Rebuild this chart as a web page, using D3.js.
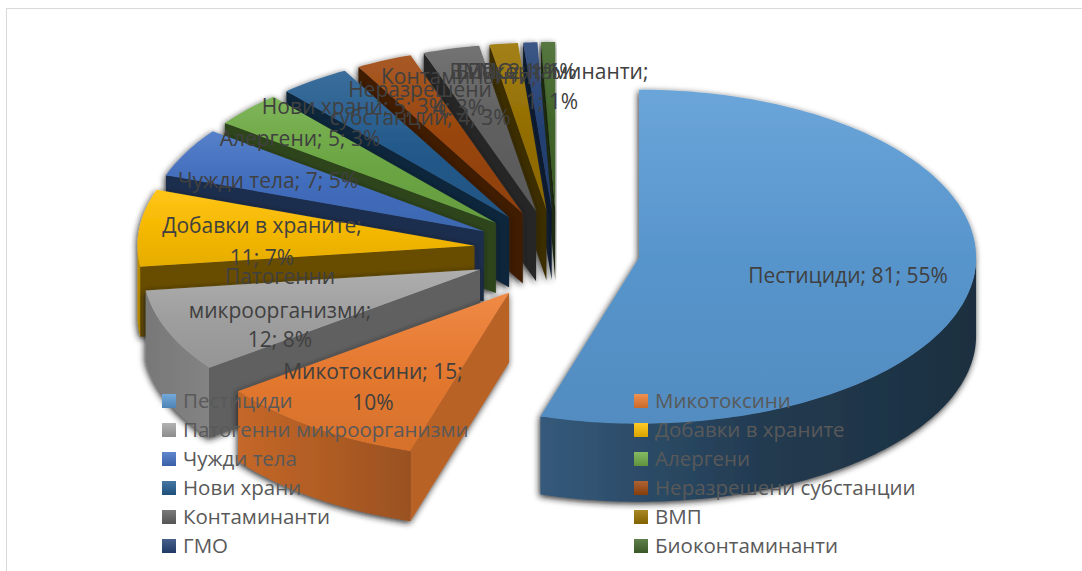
<!DOCTYPE html>
<html><head><meta charset="utf-8">
<script src="https://cdn.jsdelivr.net/npm/d3@7/dist/d3.min.js"></script>
<style>html,body{margin:0;padding:0;background:#fff}svg{display:block}text{font-family:"Open Sans","Noto Sans",sans-serif}</style>
</head><body><svg id="c" width="1082" height="571"></svg>
<script>
const categories=["Пестициди","Микотоксини","Патогенни микроорганизми","Добавки в храните","Чужди тела","Алергени","Нови храни","Неразрешени субстанции","Контаминанти","ВМП","ГМО","Биоконтаминанти"];
const values=[81,15,12,11,7,5,5,4,4,2,1,1];
const colors=["#5B9BD5","#ED7D31","#A5A5A5","#FFC000","#4472C4","#70AD47","#255E91","#9E480E","#636363","#997300","#264478","#43682B"];
const labelLines=[
 ["Пестициди; 81; 55%"],["Микотоксини; 15;","10%"],["Патогенни","микроорганизми;","12; 8%"],["Добавки в храните;","11; 7%"],
 ["Чужди тела; 7; 5%"],["Алергени; 5; 3%"],["Нови храни; 5; 3%"],["Неразрешени","субстанции; 4; 3%"],["Контаминанти;","4; 3%"],["ВМП; 2; 1%"],["ГМО; 1; 1%"],["Биоконтаминанти;","1; 1%"]];
const labelX=[848,373,280,262,268,300,354,420,459,505,522,552];
const labelY=[[277],[373,404],[278,312,341],[227,259],[182],[140],[108],[91,119],[78,109],[73],[73],[73,103]];

const W=1082,H=571,CX=557,CY=250,RX=337,RYB=168,RYF=166,EX=83,EYF=52,EYB=40;
const svg=d3.select("#c");
svg.append("rect").attr("x",6.5).attr("y",8.5).attr("width",W).attr("height",H).attr("fill","#fff").attr("stroke","#d9d9d9");
const defs=svg.append("defs");
const f=defs.append("filter").attr("id","sh").attr("x","-10%").attr("y","-10%").attr("width","120%").attr("height","125%");
f.append("feDropShadow").attr("dx",-1).attr("dy",2).attr("stdDeviation",3).attr("flood-color","#1c1c1c").attr("flood-opacity",.95);

const arcs=d3.pie().sort(null).startAngle(0).endAngle(2*Math.PI)(values);
const lineGen=d3.line();
const pathOf=pts=>lineGen(pts)+"Z";
const mix=(c,t,k)=>d3.interpolateRgb(c,t)(k);
const shade=(c,k)=>{const q=d3.rgb(c);return d3.rgb(q.r*k,q.g*k,q.b*k).formatHex();};
const wallLight=d3.scaleLinear().domain([140,240,410,540,760,975]).range([.72,.83,.65,.58,.38,.3]).clamp(true);
const cutLight=d3.scaleLinear().domain([3.45,4.08,4.6,6.3]).range([.78,.58,.4,.4]).clamp(true);

colors.forEach((c,i)=>{
  const g=defs.append("linearGradient").attr("id","top"+i).attr("x1",0).attr("y1",0).attr("x2",0).attr("y2",1);
  g.append("stop").attr("offset",0).attr("stop-color",mix(c,"#fff",.1));
  g.append("stop").attr("offset",.5).attr("stop-color",shade(c,.96));
  g.append("stop").attr("offset",1).attr("stop-color",shade(c,.9));
  const l=defs.append("linearGradient").attr("id","leg"+i).attr("x1",0).attr("y1",0).attr("x2",0).attr("y2",1);
  l.append("stop").attr("offset",0).attr("stop-color",mix(c,"#fff",.15));
  l.append("stop").attr("offset",1).attr("stop-color",shade(c,.85));
});

function drawSlice(d,i){
  const a=d.startAngle,b=d.endAngle,m=(a+b)/2;
  const depth=i===0?78:70;
  const ax=CX+Math.sin(m)*EX, ay=CY-Math.cos(m)*(Math.cos(m)>0?EYB:EYF);
  const P=t=>[ax+Math.sin(t)*RX, ay-Math.cos(t)*(Math.cos(t)>0?RYB:RYF)];
  const n=Math.max(6,Math.ceil((b-a)*50));
  const rim=d3.range(n+1).map(k=>P(a+(b-a)*k/n));
  const g=svg.append("g").attr("filter","url(#sh)");
  const down=p=>[p[0],p[1]+depth];
  if(Math.sin(a)<-1e-6){
    g.append("path").attr("d",pathOf([[ax,ay],P(a),down(P(a)),[ax,ay+depth]])).attr("fill",shade(colors[i],cutLight(a)));
  }
  const lo=Math.max(a,Math.PI/2),hi=Math.min(b,Math.PI*1.5);
  if(hi>lo){
    const k=Math.ceil((hi-lo)*50);
    const fr=d3.range(k+1).map(q=>P(lo+(hi-lo)*q/k));
    const xs=d3.extent(fr,p=>p[0]);
    const id="wall"+i;
    const wg=defs.append("linearGradient").attr("id",id).attr("gradientUnits","userSpaceOnUse")
      .attr("x1",xs[0]).attr("x2",xs[1]).attr("y1",0).attr("y2",0);
    d3.range(9).forEach(q=>{
      const t=q/8;
      wg.append("stop").attr("offset",t).attr("stop-color",shade(colors[i],wallLight(xs[0]+(xs[1]-xs[0])*t)));
    });
    g.append("path").attr("d",pathOf(fr.concat(fr.slice().reverse().map(down)))).attr("fill",`url(#${id})`);
  }
  g.append("path").attr("d",pathOf([[ax,ay]].concat(rim))).attr("fill",`url(#top${i})`);
}
d3.range(11,0,-1).forEach(i=>drawSlice(arcs[i],i));
drawSlice(arcs[0],0);

const FS=21,LS=20.5;
categories.forEach((c,i)=>{
  labelLines[i].forEach((t,j)=>{
    svg.append("text").attr("x",labelX[i]).attr("y",labelY[i][j]).attr("text-anchor","middle").attr("dominant-baseline","middle")
      .attr("font-size",FS).attr("fill","#404040").text(t);
  });
});
const legX=d3.scalePoint().domain([0,1]).range([162,634]);
const legY=d3.scalePoint().domain(d3.range(6)).range([401,546]);
categories.forEach((c,i)=>{
  const col=i%2,row=Math.floor(i/2);
  svg.append("rect").attr("x",legX(col)).attr("y",legY(row)-7).attr("width",14).attr("height",14).attr("fill",`url(#leg${i})`);
  svg.append("text").attr("x",legX(col)+21).attr("y",legY(row)+1.5).attr("dominant-baseline","middle")
    .attr("font-size",LS).attr("fill","#595959").text(c);
});
</script></body></html>
